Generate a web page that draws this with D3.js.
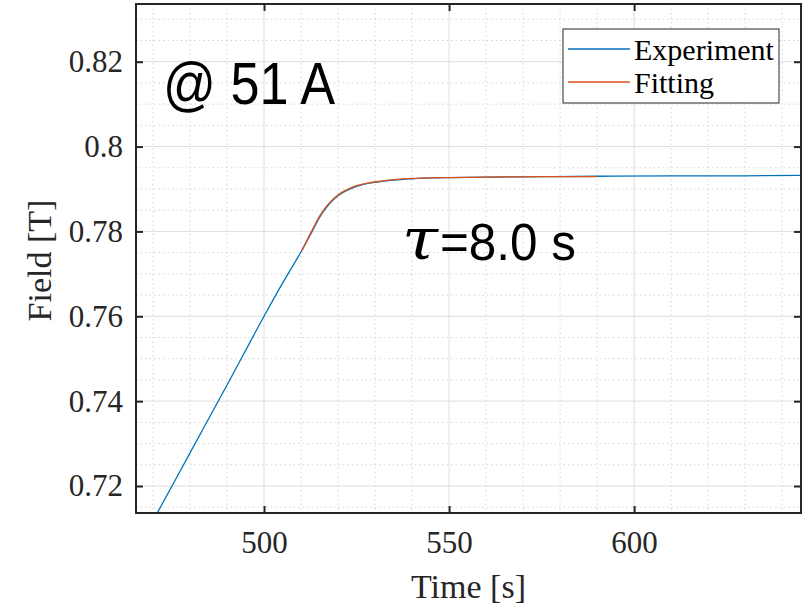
<!DOCTYPE html>
<html>
<head>
    <meta charset="utf-8">
    <title>Field vs time @ 51 A</title>
    <style>
        body { margin: 0; background: white; }
        .tickLabel { font-family: "Liberation Serif", serif; font-size: 31px; fill: #262626; }
        .axisTitle { font-family: "Liberation Serif", serif; font-size: 34px; fill: #262626; text-anchor: middle; }
        .legendText { font-family: "Liberation Serif", serif; font-size: 30px; fill: #000; }
        .note { font-family: "Liberation Sans", Arial, sans-serif; fill: #000; }
        .major { stroke: #dedede; stroke-width: 1px; }
        .minor { stroke: #d4d4d4; stroke-width: 1px; stroke-dasharray: 1.5, 3; }
    </style>
</head>
<body>
<script src="https://cdn.jsdelivr.net/npm/d3@7"></script>
<script>

    // data
    const expTime  = [470, 480, 490, 500, 505, 510, 513, 515, 517, 519, 521, 523, 525, 528, 531, 535, 540, 545, 550, 560, 575, 590, 610, 630, 646];
    const expField = [0.7118, 0.7278, 0.7438, 0.7600, 0.7678, 0.7752, 0.7800, 0.7833, 0.7858, 0.7877, 0.7890, 0.7899, 0.7906, 0.7913, 0.7917, 0.7921, 0.7924, 0.7926, 0.7927, 0.7928, 0.7929, 0.7930, 0.7931, 0.7931, 0.7932];
    const fitTime  = [510.2, 513, 515, 517, 519, 521, 523, 525, 528, 531, 535, 540, 545, 550, 560, 575, 590];
    const fitField = [0.7754, 0.7803, 0.7836, 0.7861, 0.7879, 0.7892, 0.7901, 0.7908, 0.7914, 0.7918, 0.7922, 0.7925, 0.7926, 0.7927, 0.7928, 0.7929, 0.7929];
    const xTicks = [500, 550, 600];
    const yTicks = [0.72, 0.74, 0.76, 0.78, 0.80, 0.82];
    const seriesNames = ["Experiment", "Fitting"];
    const seriesColors = ["#0072BD", "#D95319"];

    const W = 812, H = 607;
    const pLeft = 136, pRight = 801, pTop = 4, pBottom = 513;

    const svg = d3.select("body").append("svg").attr("width", W).attr("height", H);
    svg.append("rect").attr("width", W).attr("height", H).attr("fill", "white");

    const x = d3.scaleLinear().domain([465.4, 645.1]).range([pLeft, pRight]);
    const y = d3.scaleLinear().domain([0.71364, 0.8336]).range([pBottom, pTop]);

    // grid
    const grid = svg.append("g");
    grid.selectAll(".xm").data(d3.range(470, 646, 10).filter(v => v % 50 !== 0)).enter().append("line")
        .attr("class", "minor").attr("x1", d => x(d)).attr("x2", d => x(d)).attr("y1", pTop).attr("y2", pBottom);
    grid.selectAll(".ym").data(d3.range(0.715, 0.834, 0.005).filter(v => Math.abs(v * 50 - Math.round(v * 50)) > 1e-6)).enter().append("line")
        .attr("class", "minor").attr("y1", d => y(d)).attr("y2", d => y(d)).attr("x1", pLeft).attr("x2", pRight);
    grid.selectAll(".xM").data(xTicks).enter().append("line")
        .attr("class", "major").attr("x1", d => x(d)).attr("x2", d => x(d)).attr("y1", pTop).attr("y2", pBottom);
    grid.selectAll(".yM").data(yTicks).enter().append("line")
        .attr("class", "major").attr("y1", d => y(d)).attr("y2", d => y(d)).attr("x1", pLeft).attr("x2", pRight);

    // lines
    svg.append("clipPath").attr("id", "clip").append("rect")
        .attr("x", pLeft).attr("y", pTop).attr("width", pRight - pLeft).attr("height", pBottom - pTop);
    const line = d3.line().x(d => x(d[0])).y(d => y(d[1])).curve(d3.curveMonotoneX);
    const plot = svg.append("g").attr("clip-path", "url(#clip)");
    plot.append("path").datum(d3.zip(expTime, expField))
        .attr("fill", "none").attr("stroke", seriesColors[0]).attr("stroke-width", 1.3).attr("d", line);
    plot.append("path").datum(d3.zip(fitTime, fitField))
        .attr("fill", "none").attr("stroke", seriesColors[1]).attr("stroke-width", 1.3).attr("d", line);

    // axes (ticks inside, box all round)
    const tk = 7;
    const fmtY = d => d3.format(".2f")(d).replace(/0$/, "");
    svg.append("g").attr("transform", `translate(0,${pBottom})`)
        .call(d3.axisBottom(x).tickValues(xTicks).tickSize(-tk).tickPadding(18).tickFormat(d3.format("d")))
        .call(g => g.selectAll("text").attr("class", "tickLabel").attr("font-size", null).attr("font-family", null).attr("fill", null));
    svg.append("g").attr("transform", `translate(0,${pTop})`)
        .call(d3.axisTop(x).tickValues(xTicks).tickSize(-tk).tickFormat(""));
    svg.append("g").attr("transform", `translate(${pLeft},0)`)
        .call(d3.axisLeft(y).tickValues(yTicks).tickSize(-tk).tickPadding(13).tickFormat(fmtY))
        .call(g => g.selectAll("text").attr("class", "tickLabel").attr("font-size", null).attr("font-family", null).attr("fill", null));
    svg.append("g").attr("transform", `translate(${pRight},0)`)
        .call(d3.axisRight(y).tickValues(yTicks).tickSize(-tk).tickFormat(""));
    svg.selectAll(".domain").remove();
    svg.selectAll(".tick line").attr("stroke", "#262626").attr("stroke-width", 2);
    svg.append("rect").attr("x", pLeft).attr("y", pTop).attr("width", pRight - pLeft).attr("height", pBottom - pTop)
        .attr("fill", "none").attr("stroke", "#262626").attr("stroke-width", 2);

    // axis titles
    svg.append("text").attr("class", "axisTitle").attr("x", (pLeft + pRight) / 2).attr("y", 598).text("Time [s]");
    svg.append("text").attr("class", "axisTitle").attr("transform", `translate(51,${(pTop + pBottom) / 2 + 2}) rotate(-90)`).text("Field [T]");

    // annotations
    svg.append("text").attr("class", "note").attr("x", 163).attr("y", 104).attr("font-size", 60)
        .attr("textLength", 172).attr("lengthAdjust", "spacingAndGlyphs").text("@ 51 A");
    svg.append("text").attr("x", 402).attr("y", 259).attr("font-size", 58)
        .attr("font-family", "'DejaVu Serif', serif").attr("font-style", "italic")
        .attr("textLength", 36).attr("lengthAdjust", "spacingAndGlyphs").text("τ");
    svg.append("text").attr("class", "note").attr("x", 440).attr("y", 260).attr("font-size", 52)
        .attr("textLength", 136).attr("lengthAdjust", "spacingAndGlyphs").text("=8.0 s");

    // legend
    const lg = svg.append("g");
    lg.append("rect").attr("x", 563).attr("y", 29).attr("width", 216).attr("height", 74)
        .attr("fill", "white").attr("stroke", "#262626").attr("stroke-width", 1);
    seriesNames.forEach((name, i) => {
        const cy = 49 + i * 33;
        lg.append("line").attr("x1", 568).attr("x2", 630).attr("y1", cy).attr("y2", cy)
            .attr("stroke", seriesColors[i]).attr("stroke-width", 1.3);
        lg.append("text").attr("class", "legendText").attr("x", 634).attr("y", cy + 11).text(name);
    });

</script>
</body>
</html>
